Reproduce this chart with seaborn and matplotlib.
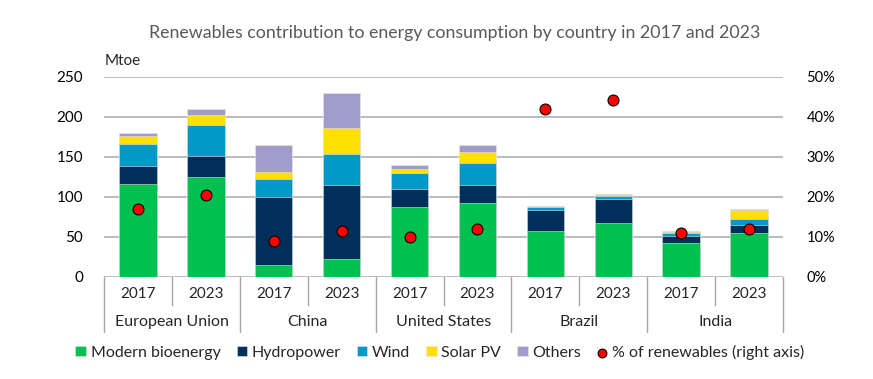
import matplotlib
matplotlib.use('Agg')

import matplotlib.pyplot as plt
import seaborn as sns
import pandas as pd
import numpy as np

# data (Mtoe, and % of renewables)
countries = ['European Union', 'China', 'United States', 'Brazil', 'India']
years = ['2017', '2023']
bioenergy = [116, 124.5, 15.5, 22, 88, 93, 58, 67, 42, 55]
hydro = [23, 27, 84.5, 92.5, 22.5, 21.5, 26, 30.5, 9, 10.5]
wind = [27, 38, 22, 39, 19, 28.5, 3.8, 3.7, 3.5, 7]
solar = [10, 13.5, 9.5, 33, 6, 13.5, 0.3, 1, 1.7, 11.7]
others = [4, 7.5, 33.5, 43, 4.5, 8, 0.5, 1, 1.7, 1.2]
share = [16.9, 20.5, 8.9, 11.6, 10.1, 12.0, 42.1, 44.2, 10.9, 12.1]

sources = ['Modern bioenergy', 'Hydropower', 'Wind', 'Solar PV', 'Others']
colors = ['#00c050', '#00305a', '#0099c8', '#ffe000', '#a29ccc']

df = pd.DataFrame({
    'bar': [c + ' ' + y for c in countries for y in years],
    'Modern bioenergy': bioenergy,
    'Hydropower': hydro,
    'Wind': wind,
    'Solar PV': solar,
    'Others': others,
    'share': share,
})
# cumulative tops so the bars can be layered into stacks
cum = df[sources].cumsum(axis=1)
for s in sources:
    df['top_' + s] = cum[s]

sns.set_theme(style='white')
plt.rcParams['font.family'] = ['Lato', 'DejaVu Sans']

W, H = 873, 379
fig = plt.figure(figsize=(W / 100, H / 100), dpi=100)
ax = fig.add_axes([104 / W, 1 - 277 / H, 679 / W, 200 / H])

for s, c in reversed(list(zip(sources, colors))):
    sns.barplot(data=df, x='bar', y='top_' + s, color=c, saturation=1,
                width=0.55, errorbar=None, edgecolor='#e8e8e8', linewidth=0.4,
                label=s, ax=ax, zorder=2)

ax.set_ylim(0, 250)
ax.set_xlim(-0.5, len(df) - 0.5)
ax.set_yticks(np.arange(0, 251, 50))
ax.yaxis.grid(True, color='#b0b0b0', lw=1.2, zorder=0)
ax.set_axisbelow(True)
ax.set_xticks([])
ax.set_xlabel('')
ax.set_ylabel('')
ax.tick_params(axis='y', length=0, pad=15, labelsize=11, colors='black')
for sp in ax.spines.values():
    sp.set_visible(False)
if ax.get_legend():
    ax.get_legend().remove()

ax2 = ax.twinx()
sns.scatterplot(x=np.arange(len(df)), y=df['share'], color='#ff0000',
                edgecolor='black', linewidth=0.8, s=62, zorder=5,
                label='% of renewables (right axis)', ax=ax2)
ax2.set_ylim(0, 50)
ax2.set_yticks(np.arange(0, 51, 10))
ax2.set_yticklabels([f'{v}%' for v in range(0, 51, 10)])
ax2.tick_params(axis='y', length=0, pad=17, labelsize=10.5, colors='black')
ax2.set_ylabel('')
ax2.grid(False)
for sp in ax2.spines.values():
    sp.set_visible(False)
if ax2.get_legend():
    ax2.get_legend().remove()

# category table under the axis
tr = ax.get_xaxis_transform()
for i in range(len(df) + 1):
    y_end = -0.275 if i % 2 == 0 else -0.14
    ax.plot([i - 0.5, i - 0.5], [0, y_end], transform=tr, color='#a6a6a6',
            lw=1, clip_on=False)
for i in range(len(df)):
    ax.text(i, -0.085, years[i % 2], transform=tr, ha='center', va='center',
            fontsize=11)
for j, c in enumerate(countries):
    ax.text(2 * j + 0.5, -0.225, c, transform=tr, ha='center', va='center',
            fontsize=11.5)

fig.text(455 / W, 1 - 33 / H,
         'Renewables contribution to energy consumption by country in 2017 and 2023',
         ha='center', va='center', fontsize=12.8, color='#595959')
fig.text(105 / W, 1 - 61 / H, 'Mtoe', ha='left', va='center', fontsize=11)

h1, l1 = ax.get_legend_handles_labels()
h2, l2 = ax2.get_legend_handles_labels()
order = [l1.index(s) for s in sources]
handles = [h1[k] for k in order] + h2
labels = [l1[k] for k in order] + l2
fig.legend(handles, labels, loc='center', bbox_to_anchor=(440 / W, 1 - 352 / H),
           ncol=6, frameon=False, fontsize=11.5, handlelength=0.65,
           handleheight=0.65, handletextpad=0.3, columnspacing=1.0,
           markerscale=0.8)

fig.savefig('out.png', dpi=100)
